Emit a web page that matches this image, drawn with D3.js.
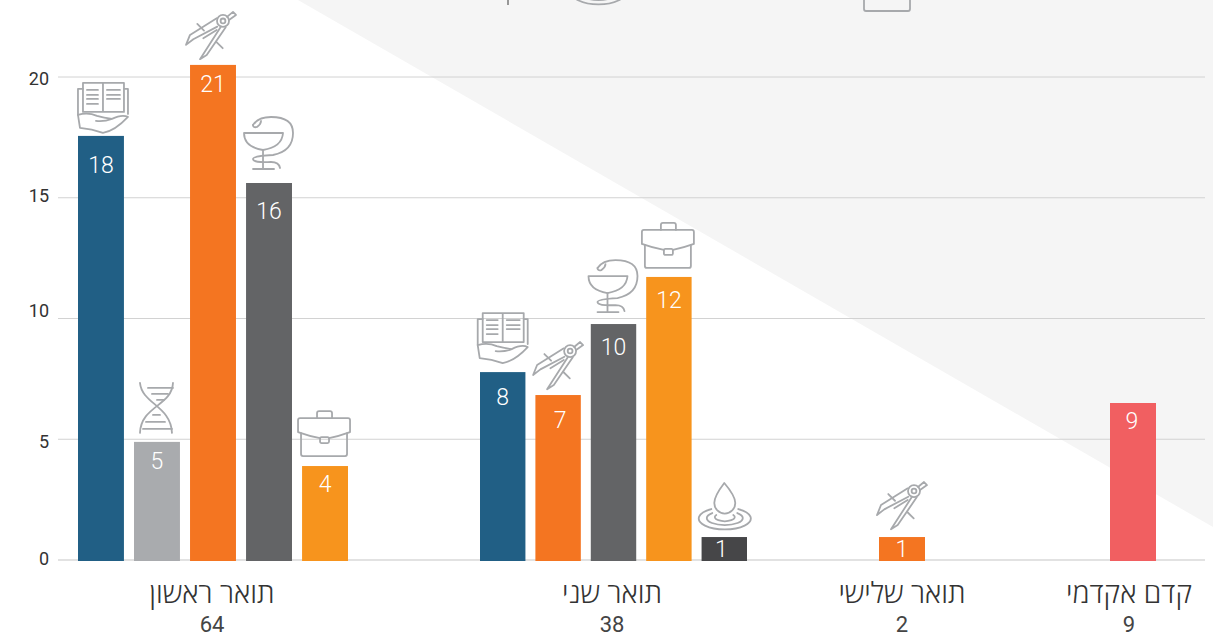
<html>

<head>
    <meta charset="utf-8">
    <style>
        body {
            margin: 0;
            background: white;
        }

        svg {
            display: block;
        }

        .icon path, .icon circle, .icon rect {
            fill: none;
            stroke: #a7a9ac;
            stroke-width: 1.8;
            stroke-linecap: round;
            stroke-linejoin: round;
        }

        .barLabel {
            font-family: Roboto, sans-serif;
            font-weight: 300;
            font-size: 23px;
            fill: white;
            text-anchor: middle;
        }

        .groupName {
            font-family: "Open Sans", sans-serif;
            font-weight: 300;
            font-size: 28.5px;
            fill: #333;
            text-anchor: middle;
        }

        .groupTotal {
            font-family: Roboto, sans-serif;
            font-weight: 400;
            font-size: 22px;
            fill: #444;
            text-anchor: middle;
        }
    </style>
    <script src="https://cdn.jsdelivr.net/npm/d3@7"></script>
</head>

<body>
    <svg id="chart"></svg>
    <script>
    /* Data */
    const groups = ["תואר ראשון", "תואר שני", "תואר שלישי", "קדם אקדמי"]
    const groupTotals = [64, 38, 2, 9]
    const yTicks = [0, 5, 10, 15, 20]

    const barGroups = [0, 0, 0, 0, 0, 1, 1, 1, 1, 1, 2, 3]
    const barFields = ["book", "dna", "compass", "cup", "case", "book", "compass", "cup", "case", "drop", "compass", "prep"]
    // bar heights as drawn, they are a bit lower than the printed numbers
    const barHeights = [17.54, 4.87, 20.48, 15.59, 3.87, 7.76, 6.81, 9.75, 11.7, 0.93, 0.93, 6.48]
    const barLabels = [18, 5, 21, 16, 4, 8, 7, 10, 12, 1, 1, 9]

    /* Layout */
    const width = 1213
    const height = 637
    const plot = { left: 58, right: 1205, top: 76.5, bottom: 559.5 }
    const groupSpans = [[78, 348], [480, 747], [879, 925], [1110, 1156]]
    const groupCenters = [212, 612, 902, 1129]
    const barGap = 0.18

    // small per bar corrections so icons and numbers sit where they do in the original
    const labelDrops = [37, 27, 27, 36, 26, 33, 33, 31, 31, 20, 20, 26]
    const labelShiftX = [0, 0, 0, 0, 0, 0, 2, 0, 0, -3, 0, -1]
    const iconShiftX = [0, 0, 0, 0, 0, -2, 2, 0, 0, 0, 2, 0]
    const iconShiftY = [0, 0, 0, 0, 0, -6, 0, 2, 1, 0, -2, 0]
    const yLabelShift = { 0: -1, 5: 3, 10: -7, 15: -2, 20: 2 }

    const colors = d3.scaleOrdinal()
        .domain(["book", "dna", "compass", "cup", "case", "drop", "prep"])
        .range(["#215f85", "#a9abae", "#f47521", "#636466", "#f7941d", "#464648", "#f15f61"])

    const yScale = d3.scaleLinear()
        .domain([0, 20])
        .range([plot.bottom, plot.top])

    // one band scale per group because the groups have different widths
    const groupScales = groups.map((g, i) => {
        let count = barGroups.filter(b => b === i).length
        return d3.scaleBand()
            .domain(d3.range(count))
            .range(groupSpans[i])
            .paddingInner(count > 1 ? barGap : 0)
    })

    /* Icons, drawn around (0,0) = middle of the top of the bar */
    const iconMarkup = {
        book: `
            <path d="M-18,-53 H2 V-24 H-18 Z M2,-53 H23 V-24 H2"/>
            <path d="M-18,-47 H-23 V-21 M23,-47 H27 V-22"/>
            <path d="M-14,-46 H-3 M-14,-41 H-3 M-14,-37 H-3 M-14,-32 H-3 M6,-46 H19 M6,-41 H19 M6,-37 H19"/>
            <path d="M-23,-21 L-21,-8 Q-9,-7 2,-3 Q14,-5 27,-19 Q21,-22 11,-17 Q3,-14 -5,-15 M-23,-21 Q-13,-24 -4,-20 Q3,-18 11,-17"/>`,
        dna: `
            <path d="M-17,-59 C-15,-38 14,-36 15,-9 M16,-59 C15,-36 -16,-36 -17,-9"/>
            <path d="M-9,-54 H16 M-5,-48 H11 M0,-42 H7 M-4,-27 H3 M-11,-20 H8 M-14,-13 H15"/>`,
        compass: `
            <circle cx="10" cy="-44" r="6"/><circle cx="10" cy="-44" r="2.4"/>
            <path d="M14,-48 L20,-53 L23,-50 L16,-45"/>
            <path d="M3.7,-46.7 L-23,-30 L-27,-20 L-19.7,-25.7 L4.3,-38.3"/>
            <path d="M8,-38.3 L-13,-5.7 L-6.3,-10 L12.7,-37.7"/>
            <path d="M-9.7,-26.7 L3.7,-35"/>
            <path d="M-15.7,-41 L-9,-34.3 M3,-23.3 L9.7,-16.7"/>`,
        cup: `
            <path d="M-25,-50 H14 Q13,-36 -6,-33 Q-25,-36 -25,-50 Z"/>
            <path d="M-6,-33 V-14 M-16,-14 H5"/>
            <path d="M-16,-58 Q-11,-66 2,-66 Q24,-66 24,-50 Q24,-32 4,-28 Q-16,-27 -16,-24 Q-16,-20 2,-21 Q10,-21 11,-15"/>
            <path d="M-16,-58 Q-16,-55 -12,-56 Q-8,-59 -8,-62"/>`,
        case: `
            <path d="M-8,-48 V-53 Q-8,-55 -6,-55 H5 Q7,-55 7,-53 V-48"/>
            <path d="M-27,-34 V-46 Q-27,-48 -25,-48 H23 Q25,-48 25,-46 V-34 Q14,-30 4,-28 M-27,-34 Q-16,-30 -5,-28"/>
            <path d="M-24,-33 V-12 Q-24,-10 -22,-10 H20 Q22,-10 22,-12 V-33"/>
            <rect x="-5" y="-29" width="9" height="6" rx="1.5"/>`,
        drop: `
            <path d="M0,-54 Q-10,-41 -10,-34 A10,10 0 0 0 11,-34 Q11,-41 0,-54 Z"/>
            <path d="M-13,-28 A26,11 0 1 0 14,-28"/>
            <path d="M-12,-24 A18,7 0 1 0 13,-24"/>
            <path d="M-8,-22 A10,4 0 1 0 9,-22"/>`
    }

    function iconAt(parent, name, x, y) {
        parent.append("g")
            .attr("class", "icon")
            .attr("transform", `translate(${x},${y})`)
            .html(iconMarkup[name])
    }

    /* Draw */
    let svg = d3.select("#chart")
        .attr("width", width)
        .attr("height", height)

    // grey triangle behind everything
    svg.append("path")
        .attr("d", `M298,0 H${width} V527 Z`)
        .attr("fill", "#f5f5f5")

    // legend row of the original is cut off by the top of the picture
    iconAt(svg, "drop", 598, 12)
    iconAt(svg, "case", 888, 21)
    svg.append("path")
        .attr("d", "M508,0 V5")
        .attr("stroke", "#777")
        .attr("stroke-width", 1.5)

    // axis with the grid lines
    let axisY = d3.axisLeft(yScale)
        .tickValues(yTicks)
        .tickSize(-(plot.right - plot.left))
        .tickPadding(9)

    let axis = svg.append("g")
        .attr("transform", `translate(${plot.left},0)`)
        .call(axisY)
    axis.select(".domain").remove()
    axis.selectAll(".tick line")
        .attr("stroke", d => d === 0 ? "#e2e2e2" : "#d2d2d2")
        .attr("stroke-width", d => d === 0 ? 2 : 1)
    axis.selectAll(".tick text")
        .attr("y", d => yLabelShift[d])
        .attr("font-family", "Roboto, sans-serif")
        .attr("font-size", 18)
        .attr("fill", "#333")

    // bars
    let bars = barHeights.map((h, i) => {
        let inGroup = barGroups.slice(0, i).filter(b => b === barGroups[i]).length
        let scale = groupScales[barGroups[i]]
        return { h, i, x: scale(inGroup), w: scale.bandwidth(), top: yScale(h) }
    })

    svg.selectAll(".bar")
        .data(bars)
        .enter().append("rect")
        .attr("class", "bar")
        .attr("x", d => d.x)
        .attr("y", d => d.top)
        .attr("width", d => d.w)
        .attr("height", d => yScale(0) - d.top + 1.5)
        .attr("fill", d => colors(barFields[d.i]))

    svg.selectAll(".barLabel")
        .data(bars)
        .enter().append("text")
        .attr("class", "barLabel")
        .attr("x", d => d.x + d.w / 2 + labelShiftX[d.i])
        .attr("y", d => d.top + labelDrops[d.i])
        .text(d => barLabels[d.i])

    bars.forEach(d => {
        let name = barFields[d.i]
        if (iconMarkup[name]) {
            iconAt(svg, name, d.x + d.w / 2 + iconShiftX[d.i], d.top + iconShiftY[d.i])
        }
    })

    // group names and totals under the axis
    svg.selectAll(".groupName")
        .data(groups)
        .enter().append("text")
        .attr("class", "groupName")
        .attr("x", (d, i) => groupCenters[i])
        .attr("y", 603)
        .text(d => d)

    svg.selectAll(".groupTotal")
        .data(groupTotals)
        .enter().append("text")
        .attr("class", "groupTotal")
        .attr("x", (d, i) => groupCenters[i])
        .attr("y", 632)
        .text(d => d)
    </script>
</body>

</html>
